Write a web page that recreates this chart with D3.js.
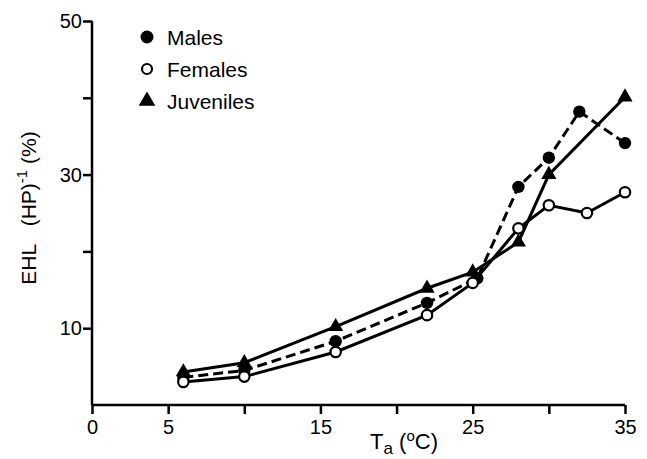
<!DOCTYPE html>
<html>
<head>
<meta charset="utf-8">
<script src="https://cdn.jsdelivr.net/npm/d3@7"></script>
<style>
  body { margin: 0; background: #fff; }
  text { font-family: "Liberation Sans", Arial, Helvetica, sans-serif; fill: #000; }
</style>
</head>
<body>
<div class="chart"></div>
<script>
var width = 647;
var height = 459;
var margin = {top: 21, right: 22, bottom: 54, left: 92};

// data
var malesX = [6, 10, 16, 22, 25.3, 28, 30, 32, 35];
var malesY = [3.6, 4.5, 8.3, 13.3, 16.5, 28.4, 32.2, 38.2, 34.1];
var femalesX = [6, 10, 16, 22, 25, 28, 30, 32.5, 35];
var femalesY = [3.0, 3.7, 6.9, 11.7, 15.9, 23.0, 26.0, 25.0, 27.7];
var juvX = [6, 10, 16, 22, 25, 28, 30, 35];
var juvY = [4.3, 5.5, 10.2, 15.2, 17.3, 21.2, 30.0, 40.1];

var xTicks = [0, 5, 10, 15, 20, 25, 30, 35];
var xLabels = [0, 5, 15, 25, 35];
var yTicks = [10, 20, 30, 40, 50];
var yLabels = [10, 30, 50];
var legendNames = ["Males", "Females", "Juveniles"];

var x = d3.scaleLinear().domain([0, 35]).range([margin.left, width - margin.right]);
var y = d3.scaleLinear().domain([0, 50]).range([height - margin.bottom, margin.top]);

var svg = d3.select(".chart")
.append("svg")
.attr("width", width)
.attr("height", height);

function pts(xs, ys) {
  return xs.map(function(v, i) { return [v, ys[i]]; });
}

var line = d3.line()
.x(function(d) { return x(d[0]); })
.y(function(d) { return y(d[1]); });

// axes
var xAxis = d3.axisBottom(x)
.tickValues(xTicks)
.tickSize(9)
.tickFormat(function(d) { return xLabels.indexOf(d) >= 0 ? d : ""; });

var yAxis = d3.axisLeft(y)
.tickValues(yTicks)
.tickSize(9)
.tickFormat(function(d) { return yLabels.indexOf(d) >= 0 ? d : ""; });

var gx = svg.append("g")
.attr("transform", "translate(0," + y(0) + ")")
.call(xAxis);
gx.select(".domain").attr("d", "M" + x(0) + ",0H" + x(35));

var gy = svg.append("g")
.attr("transform", "translate(" + x(0) + ",0)")
.call(yAxis);
gy.select(".domain").attr("d", "M0," + y(50) + "V" + y(0));

svg.selectAll(".domain").style("stroke", "#000").style("stroke-width", 2.5);
svg.selectAll(".tick line").style("stroke", "#000").style("stroke-width", 2.5);
svg.selectAll(".tick text").style("font-size", "20px");
gx.selectAll(".tick text").attr("y", 15);
gy.selectAll(".tick text").attr("x", -10);

// axis titles
var xt = svg.append("text")
.attr("x", 404)
.attr("y", 449)
.attr("text-anchor", "middle")
.style("font-size", "22px");
xt.append("tspan").text("T");
xt.append("tspan").attr("dy", 5).style("font-size", "17px").text("a");
xt.append("tspan").attr("dy", -5).text("\u00a0(");
xt.append("tspan").attr("dy", -8).style("font-size", "15px").text("o");
xt.append("tspan").attr("dy", 8).text("C)");

var yt = svg.append("text")
.attr("transform", "translate(36,208) rotate(-90)")
.attr("text-anchor", "middle")
.style("font-size", "21px");
yt.append("tspan").text("EHL\u00a0\u00a0\u00a0(HP)");
yt.append("tspan").attr("dy", -9).style("font-size", "15px").text("-1");
yt.append("tspan").attr("dy", 9).text("\u00a0(%)");

// lines
svg.append("path")
.datum(pts(femalesX, femalesY))
.attr("d", line)
.style("stroke", "#000").style("stroke-width", 3).style("fill", "none");

svg.append("path")
.datum(pts(juvX, juvY))
.attr("d", line)
.style("stroke", "#000").style("stroke-width", 3).style("fill", "none");

svg.append("path")
.datum(pts(malesX, malesY))
.attr("d", line)
.style("stroke", "#000").style("stroke-width", 3).style("fill", "none")
.style("stroke-dasharray", "10,5");

// markers
var tri = d3.symbol().type(d3.symbolTriangle).size(100);

svg.append("g")
.selectAll("path")
.data(pts(juvX, juvY))
.enter().append("path")
.attr("d", tri)
.attr("transform", function(d) { return "translate(" + x(d[0]) + "," + y(d[1]) + ")"; })
.style("fill", "#000");

svg.append("g")
.selectAll("circle")
.data(pts(malesX, malesY))
.enter().append("circle")
.attr("cx", function(d) { return x(d[0]); })
.attr("cy", function(d) { return y(d[1]); })
.attr("r", 6.2)
.style("fill", "#000");

svg.append("g")
.selectAll("circle")
.data(pts(femalesX, femalesY))
.enter().append("circle")
.attr("cx", function(d) { return x(d[0]); })
.attr("cy", function(d) { return y(d[1]); })
.attr("r", 5.2)
.style("fill", "#fff")
.style("stroke", "#000")
.style("stroke-width", 2.2);

// legend
var legend = svg.append("g")
.selectAll("g")
.data(legendNames)
.enter().append("g")
.attr("transform", function(d, i) { return "translate(147," + (37 + i * 32) + ")"; });

legend.append("text")
.attr("x", 20)
.attr("y", 8)
.style("font-size", "21px")
.text(function(d) { return d; });

legend.filter(function(d, i) { return i === 0; })
.append("circle").attr("r", 6.5).style("fill", "#000");
legend.filter(function(d, i) { return i === 1; })
.append("circle").attr("r", 5).style("fill", "#fff").style("stroke", "#000").style("stroke-width", 2.2);
legend.filter(function(d, i) { return i === 2; })
.append("path").attr("d", d3.symbol().type(d3.symbolTriangle).size(120)).style("fill", "#000");
</script>
</body>
</html>
